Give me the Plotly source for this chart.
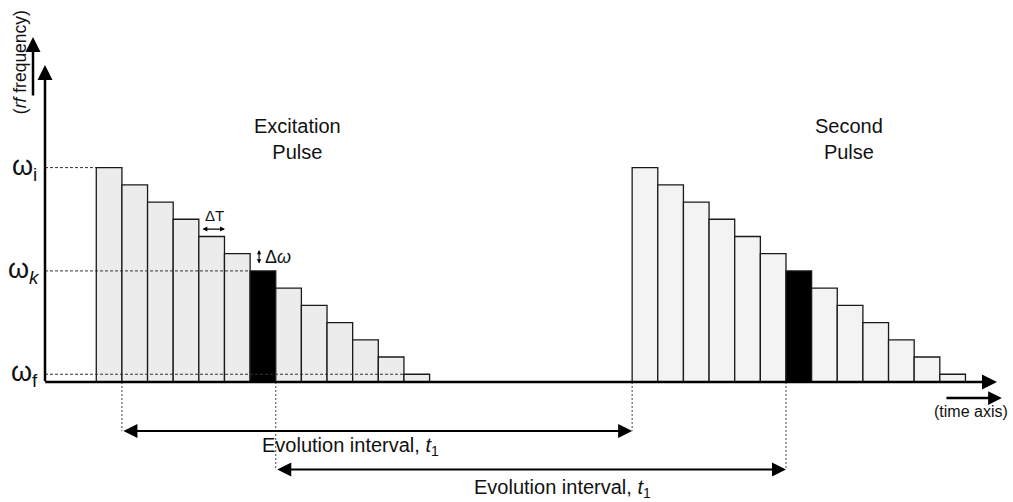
import plotly.graph_objects as go

# ---------------- data ----------------
step_index = list(range(13))
excitation_freq = [12.45, 11.45, 10.45, 9.45, 8.45, 7.45, 6.45, 5.45, 4.45, 3.45, 2.45, 1.45, 0.45]
second_freq = [12.45, 11.45, 10.45, 9.45, 8.45, 7.45, 6.45, 5.45, 4.45, 3.45, 2.45, 1.45, 0.45]
excitation_start = 2.0     # in units of ΔT
second_start = 22.9        # in units of ΔT
step_width = 1.0           # ΔT
highlight_step = 6         # the ω_k step (black)

pulse_labels = ["Excitation<br>Pulse", "Second<br>Pulse"]
freq_labels = ["ω<sub>i</sub>", "ω<sub><i>k</i></sub>", "ω<sub>f</sub>"]
interval_label = "Evolution interval, <i>t</i><sub>1</sub>"

# ---------------- figure ----------------
fig = go.Figure()
fills = ["#ececec", "#f3f3f3"]
for start, freq, fill in [(excitation_start, excitation_freq, fills[0]),
                          (second_start, second_freq, fills[1])]:
    xs = [start + i * step_width + step_width / 2 for i in step_index]
    colors = ["#000000" if i == highlight_step else fill for i in step_index]
    fig.add_trace(go.Bar(
        x=xs, y=freq, width=step_width, base=0,
        marker=dict(color=colors, line=dict(color="#1a1a1a", width=1.3)),
        hoverinfo="skip", showlegend=False))

dash = "3px,2px"
# horizontal dashed guides for ω levels
levels = [(excitation_freq[0], excitation_start),
          (excitation_freq[highlight_step], excitation_start + highlight_step * step_width),
          (excitation_freq[-1], excitation_start + (len(step_index) - 1) * step_width)]
for (lv, xend), lab in zip(levels, freq_labels):
    fig.add_shape(type="line", x0=0, x1=xend, y0=lv, y1=lv, xref="x", yref="y",
                  line=dict(color="#333", width=1, dash=dash), layer="above")
    fig.add_annotation(x=-0.8, y=lv, text=lab, showarrow=False, xanchor="center",
                       yanchor="middle", font=dict(size=27, color="#111"))

# evolution intervals
y_arrow1, y_arrow2 = -2.85, -5.08
int1 = (excitation_start + step_width, second_start)
int2 = (excitation_start + (highlight_step + 1) * step_width, second_start + highlight_step * step_width)
for (a, b), ya in [(int1, y_arrow1), (int2, y_arrow2)]:
    for xv in (a, b):
        fig.add_shape(type="line", x0=xv, x1=xv, y0=0, y1=ya, xref="x", yref="y",
                      line=dict(color="#444", width=1, dash="2px,2px"), layer="below")


def arrow(x0, y0, x1, y1, width, size, both=False):
    fig.add_annotation(x=x1, y=y1, ax=x0, ay=y0, xref="x", yref="y", axref="x", ayref="y",
                       text="", showarrow=True, arrowhead=2, arrowsize=size, arrowwidth=width,
                       arrowcolor="#000", arrowside="end+start" if both else "end",
                       startarrowhead=2, startarrowsize=size, standoff=0, startstandoff=0)


arrow(int1[0], y_arrow1, int1[1], y_arrow1, 2, 1.4, both=True)
arrow(int2[0], y_arrow2, int2[1], y_arrow2, 2, 1.4, both=True)
fig.add_annotation(x=11.9, y=-3.72, text=interval_label, showarrow=False,
                   font=dict(size=20, color="#111"))
fig.add_annotation(x=20.2, y=-6.2, text=interval_label, showarrow=False,
                   font=dict(size=20, color="#111"))

# axes
arrow(0, -0.05, 0, 18.41, 2.5, 1.2)
arrow(-0.05, 0, 37.13, 0, 2.5, 1.2)
# rf frequency arrow + label
arrow(-0.468, 16.55, -0.468, 20.03, 2.5, 1.2)
fig.add_annotation(x=-0.99, y=18.55, text="(<i>rf</i> frequency)", textangle=-90,
                   showarrow=False, font=dict(size=17.5, color="#111"))
# time axis arrow + label
arrow(35.1, -0.93, 37.32, -0.93, 2.5, 1.1)
fig.add_annotation(x=36.12, y=-1.74, text="(time axis)", showarrow=False,
                   font=dict(size=16, color="#111"))

# ΔT and Δω
arrow(6.08, 8.88, 7.02, 8.88, 1.1, 0.9, both=True)
fig.add_annotation(x=6.6, y=9.64, text="ΔT", showarrow=False, font=dict(size=15, color="#111"))
arrow(8.35, 6.79, 8.35, 7.67, 1.1, 0.8, both=True)
fig.add_annotation(x=9.09, y=7.26, text="Δ<i>ω</i>", showarrow=False, font=dict(size=18, color="#111"))

# pulse titles
fig.add_annotation(x=9.83, y=14.14, text=pulse_labels[0], showarrow=False,
                   font=dict(size=20, color="#111"))
fig.add_annotation(x=31.36, y=14.14, text=pulse_labels[1], showarrow=False,
                   font=dict(size=20, color="#111"))

fig.update_layout(
    width=1013, height=502, margin=dict(l=0, r=0, t=0, b=0),
    paper_bgcolor="white", plot_bgcolor="white", barmode="overlay",
    xaxis=dict(range=[-1.755, 37.754], visible=False),
    yaxis=dict(range=[-6.969, 22.183], visible=False),
    font=dict(family="Liberation Sans, Arial, sans-serif", color="#111"),
)

fig.write_html("out.html", config={"displayModeBar": False},
               post_script="document.body.style.margin='0';document.body.style.overflow='hidden';")
